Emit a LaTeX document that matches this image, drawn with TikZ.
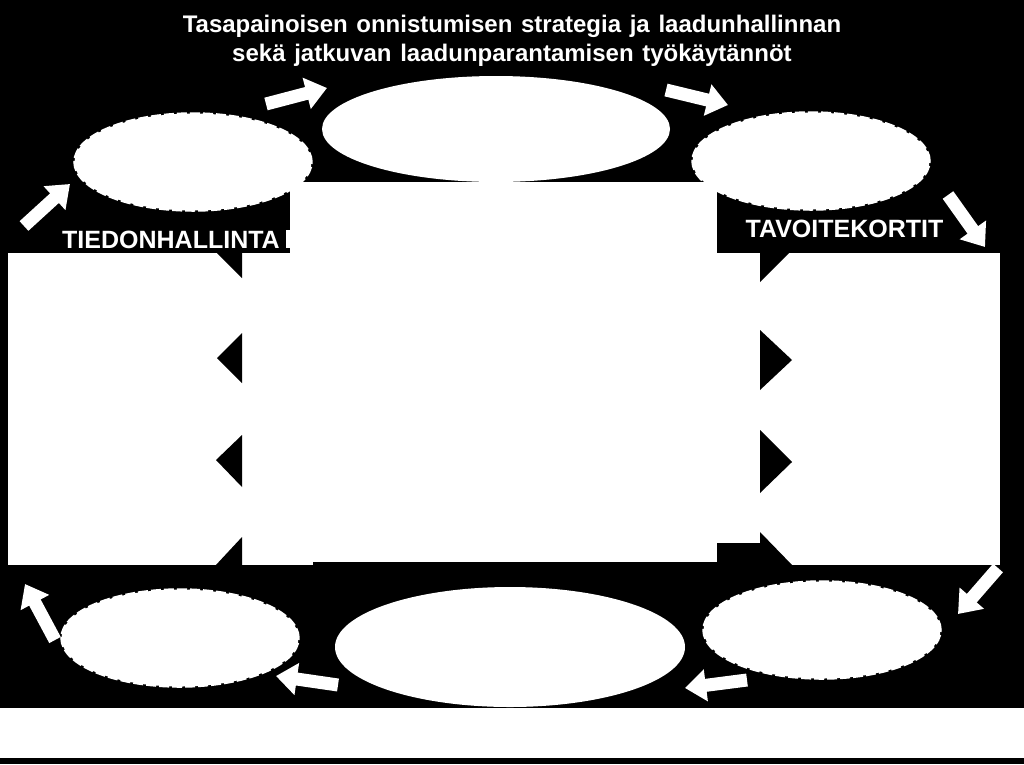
\documentclass[tikz,border=0pt]{standalone}
\usepackage{fontspec}
\setmainfont{Liberation Sans}
\usetikzlibrary{shapes.geometric,arrows.meta}
\tikzset{
  panel/.style={rectangle, fill=white, inner sep=0pt, outer sep=0pt},
  solidell/.style={ellipse, fill=white, inner sep=0pt, outer sep=0pt, minimum width=348pt, minimum height=106pt},
  dashell/.style={ellipse, fill=white, draw=white, line width=2.5pt, dash pattern=on 10pt off 3pt, inner sep=0pt, outer sep=0pt, minimum width=237pt, minimum height=97pt},
  notch/.style={fill=black},
  flow/.style={draw=white, line width=13pt, -{Triangle[width=31pt,length=21pt]}},
  titletext/.style={text=white, font=\fontsize{24}{29}\selectfont\bfseries, inner sep=0pt, anchor=base},
  labeltext/.style={text=white, font=\fontsize{25}{30}\selectfont\bfseries, inner sep=0pt, anchor=base}
}
\begin{document}
\begin{tikzpicture}[x=1pt,y=-1pt]
  \path[fill=black, use as bounding box] (0,0) rectangle (1024,764);

  % panels
  \node[panel, minimum width=305pt, minimum height=312pt] (leftpanel) at (160.5,409) {};
  \node[panel, minimum width=427pt, minimum height=380pt] (center) at (503.5,372) {};
  \node[panel, minimum width=283pt, minimum height=312pt] (rightpanel) at (858.5,409) {};
  \node[panel, minimum width=1024pt, minimum height=50pt] (band) at (512,733) {};
  \fill[white] (286,230) rectangle (290,248);

  % ellipses
  \node[solidell] (top) at (496,129) {};
  \node[solidell, minimum width=350pt, minimum height=120pt] (bottom) at (510,647) {};
  \node[dashell] (tl) at (193,162) {};
  \node[dashell] (tr) at (811,161) {};
  \node[dashell] (bl) at (180,638) {};
  \node[dashell] (br) at (822,630) {};

  % black notches, left panel
  \path[notch] (217,253) -- (242,253) -- (242,278) -- cycle;
  \path[notch] (242,333) -- (217,358) -- (242,383) -- cycle;
  \path[notch] (242,435) -- (216,460) -- (242,487) -- cycle;
  \path[notch] (242,537) -- (215,566) -- (242,566) -- cycle;
  % black notches, right panel
  \path[notch] (760,253) -- (789,253) -- (760,282) -- cycle;
  \path[notch] (760,330) -- (792,360) -- (760,390) -- cycle;
  \path[notch] (760,430) -- (792,462) -- (760,493) -- cycle;
  \path[notch] (717,543) -- (760,543) -- (760,532) -- (793,566) -- (717,566) -- cycle;

  % arrow ends
  \coordinate (a1s) at (24,226);  \coordinate (a1e) at (70,184);
  \coordinate (a2s) at (266,104); \coordinate (a2e) at (327,88);
  \coordinate (a3s) at (666,90);  \coordinate (a3e) at (728,105);
  \coordinate (a4s) at (948,195); \coordinate (a4e) at (985,247);
  \coordinate (a5s) at (998,568); \coordinate (a5e) at (958,614);
  \coordinate (a6s) at (747,680); \coordinate (a6e) at (685,688);
  \coordinate (a7s) at (338,685); \coordinate (a7e) at (276,676);
  \coordinate (a8s) at (55,640);  \coordinate (a8e) at (25,584);
  \draw[flow] (a1s) -- (a1e);
  \draw[flow] (a2s) -- (a2e);
  \draw[flow] (a3s) -- (a3e);
  \draw[flow] (a4s) -- (a4e);
  \draw[flow] (a5s) -- (a5e);
  \draw[flow] (a6s) -- (a6e);
  \draw[flow] (a7s) -- (a7e);
  \draw[flow] (a8s) -- (a8e);

  % texts
  \node[titletext] (title1) at (512,32) {Tasapainoisen\hspace{2pt} onnistumisen\hspace{2pt} strategia\hspace{2pt} ja\hspace{2pt} laadunhallinnan};
  \node[titletext] (title2) at (512,61) {sekä\hspace{2pt} jatkuvan\hspace{2pt} laadunparantamisen\hspace{2pt} työkäytännöt};
  \node[labeltext] (lblleft) at (171,248) {TIEDONHALLINTA};
  \node[labeltext] (lblright) at (844.5,237) {TAVOITEKORTIT};
\end{tikzpicture}
\end{document}
